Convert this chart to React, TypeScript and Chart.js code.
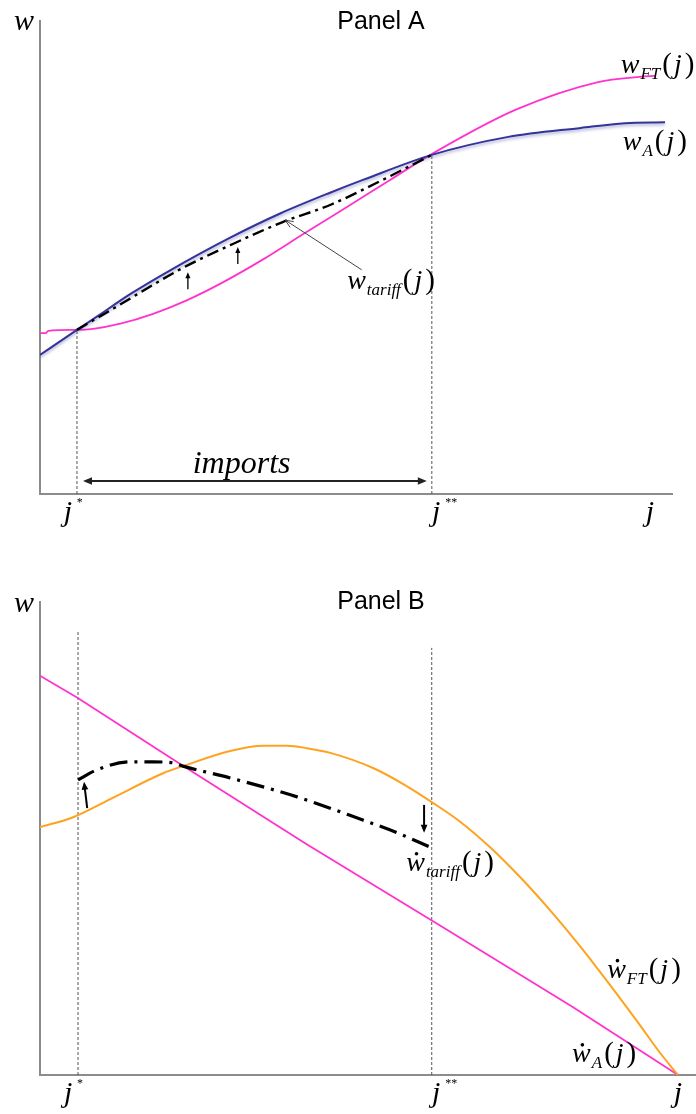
import React, { useEffect, useRef } from "react";
import { Chart, registerables } from "chart.js";

Chart.register(...registerables);

const SERIF = "'Liberation Serif', 'Times New Roman', serif";
const SANS = "'Liberation Sans', Arial, sans-serif";
const AXIS = "#8c8c8c";
const BLUE = "#333399";
const PINK = "#FF33CC";
const ORANGE = "#FFA21F";
const GUIDE = "#555555";

// ---------------- Panel A ----------------
const A_WA_J = [0, 5.85, 9.0, 14.2, 20.6, 30.1, 38.0, 45.9, 51.1, 62.0, 74.1, 85.6, 92.6, 98.9];
const A_WA_W = [29.4, 34.7, 37.5, 42.2, 47.3, 54.2, 59.3, 63.7, 66.4, 71.7, 75.5, 77.4, 78.4, 78.6];
const A_WFT_J = [0, 0.9, 1.3, 5.85, 8.4, 12.7, 17.9, 23.3, 29.0, 35.3, 41.6, 48.7, 55.4, 61.9, 75.2, 88.3, 94.9, 97.3];
const A_WFT_W = [34.0, 34.0, 34.5, 34.7, 34.9, 36.0, 38.1, 41.0, 44.8, 49.6, 54.9, 60.8, 66.4, 71.8, 81.2, 87.1, 88.2, 88.4];
const A_TARIFF_J = [5.85, 11.6, 22.6, 30.1, 38.4, 45.9, 53.3, 62.0];
const A_TARIFF_W = [34.7, 39.2, 47.8, 52.6, 57.5, 61.1, 65.8, 71.7];
const A_GUIDE_J = [5.85, 62.0];
const A_GUIDE_TOP = [34.7, 71.7];
const A_ARROW_J = [23.4, 31.3];
const A_ARROW_FROM = [43.3, 48.6];
const A_ARROW_TO = [46.9, 52.2];
const A_POINTER_FROM = [50.9, 47.4];
const A_POINTER_TO = [38.8, 57.9];
const A_IMPORTS_J = [6.8, 61.2];
const A_IMPORTS_W = 2.75;
const A_IMPORTS_TEXT = { j: 31.9, w: 4.4, text: "imports" };
const A_LABELS = [
  { sub: "tariff", j: 48.6, w: 43.3, dot: false },
  { sub: "FT", j: 91.9, w: 89.0, dot: false },
  { sub: "A", j: 92.2, w: 72.7, dot: false },
];
const A_TICK_J = [4.4, 62.7, 96.5];
const A_TICK_STARS = ["*", "**", ""];

// ---------------- Panel B ----------------
const B_WA_J = [0, 5.8, 22.4, 41.8, 62.7, 83.5, 92.0, 100];
const B_WA_W = [84.4, 79.8, 65.4, 48.8, 31.6, 14.4, 7.0, 0];
const B_WFT_J = [0, 5.2, 11.4, 19.3, 22.4, 29.8, 35.0, 38.7, 41.8, 45.5, 52.2, 57.2, 61.4, 65.8, 70.5, 75.2, 79.9, 84.6, 89.3, 94.0, 97.2, 100];
const B_WFT_W = [52.4, 54.5, 58.6, 63.8, 65.3, 68.5, 69.6, 69.6, 69.1, 68.1, 64.9, 61.3, 57.7, 53.6, 48.2, 41.9, 34.9, 27.3, 19.1, 10.6, 4.65, 0];
const B_TARIFF_J = [5.96, 8.9, 14.1, 17.7, 20.8, 22.4, 29.8, 40.3, 50.6, 56.0, 61.4];
const B_TARIFF_W = [62.4, 64.5, 66.2, 66.2, 66.0, 65.3, 62.8, 58.8, 53.9, 51.2, 48.0];
const B_GUIDE_J = [5.96, 61.4];
const B_GUIDE_TOP = [93.7, 90.3];
const B_ARROW_J_FROM = [7.4, 60.2];
const B_ARROW_J_TO = [6.9, 60.2];
const B_ARROW_FROM = [56.4, 57.1];
const B_ARROW_TO = [62.0, 51.2];
const B_LABELS = [
  { sub: "tariff", j: 57.4, w: 43.1, dot: true },
  { sub: "FT", j: 88.9, w: 20.5, dot: true },
  { sub: "A", j: 83.4, w: 2.7, dot: true },
];
const B_TICK_J = [4.4, 62.1, 100];
const B_TICK_STARS = ["*", "**", ""];
const B_X_MAX = 102.82;

const zip = (js: number[], ws: number[]) => js.map((j, i) => ({ x: j, y: ws[i] }));

function arrowHead(ctx: CanvasRenderingContext2D, x1: number, y1: number, x2: number, y2: number, size: number, open: boolean) {
  const a = Math.atan2(y2 - y1, x2 - x1);
  const hw = size * 0.42;
  const bx = x2 - size * Math.cos(a);
  const by = y2 - size * Math.sin(a);
  const lx = bx + hw * Math.sin(a);
  const ly = by - hw * Math.cos(a);
  const rx = bx - hw * Math.sin(a);
  const ry = by + hw * Math.cos(a);
  ctx.beginPath();
  if (open) {
    ctx.moveTo(lx, ly);
    ctx.lineTo(x2, y2);
    ctx.lineTo(rx, ry);
    ctx.stroke();
  } else {
    ctx.moveTo(x2, y2);
    ctx.lineTo(lx, ly);
    ctx.lineTo(rx, ry);
    ctx.closePath();
    ctx.fill();
  }
}

function arrow(ctx: CanvasRenderingContext2D, x1: number, y1: number, x2: number, y2: number, color: string, width: number, size: number, open = false, both = false) {
  ctx.save();
  ctx.strokeStyle = color;
  ctx.fillStyle = color;
  ctx.lineWidth = width;
  ctx.setLineDash([]);
  const len = Math.hypot(x2 - x1, y2 - y1);
  const ux = (x2 - x1) / len;
  const uy = (y2 - y1) / len;
  const cut = open ? 0 : size * 0.8;
  ctx.beginPath();
  ctx.moveTo(x1 + (both ? ux * cut : 0), y1 + (both ? uy * cut : 0));
  ctx.lineTo(x2 - ux * cut, y2 - uy * cut);
  ctx.stroke();
  arrowHead(ctx, x1, y1, x2, y2, size, open);
  if (both) arrowHead(ctx, x2, y2, x1, y1, size, open);
  ctx.restore();
}

function mathLabel(ctx: CanvasRenderingContext2D, x: number, base: number, sub: string, dot: boolean, size: number) {
  ctx.save();
  ctx.fillStyle = "#000";
  ctx.textAlign = "left";
  ctx.textBaseline = "alphabetic";
  let cx = x;
  ctx.font = `italic ${size}px ${SERIF}`;
  ctx.fillText("w", cx, base);
  const ww = ctx.measureText("w").width;
  if (dot) {
    ctx.beginPath();
    ctx.arc(cx + ww * 0.55, base - size * 0.62, size * 0.065, 0, Math.PI * 2);
    ctx.fill();
  }
  cx += ww + 1;
  ctx.font = `italic ${Math.round(size * 0.62)}px ${SERIF}`;
  ctx.fillText(sub, cx, base + size * 0.2);
  cx += ctx.measureText(sub).width + 2;
  ctx.font = `${Math.round(size * 1.05)}px ${SERIF}`;
  ctx.fillText("(", cx, base);
  cx += ctx.measureText("(").width + 2;
  ctx.font = `italic ${size}px ${SERIF}`;
  ctx.fillText("j", cx, base);
  cx += ctx.measureText("j").width + 3;
  ctx.font = `${Math.round(size * 1.05)}px ${SERIF}`;
  ctx.fillText(")", cx, base);
  ctx.restore();
}

function tickLabels(chart: any, js: number[], stars: string[]) {
  const ctx: CanvasRenderingContext2D = chart.ctx;
  const base = chart.chartArea.bottom + 27;
  ctx.save();
  ctx.fillStyle = "#000";
  js.forEach((j, i) => {
    const x = chart.scales.x.getPixelForValue(j);
    ctx.font = `italic 30px ${SERIF}`;
    ctx.textAlign = "center";
    ctx.fillText("j", x, base);
    if (stars[i]) {
      ctx.font = `12px ${SERIF}`;
      ctx.textAlign = "left";
      ctx.fillText(stars[i], x + 9, base - 15);
    }
  });
  ctx.restore();
}

function frameText(chart: any, title: string, titleBase: number, wBase: number) {
  const ctx: CanvasRenderingContext2D = chart.ctx;
  ctx.save();
  ctx.fillStyle = "#000";
  ctx.textBaseline = "alphabetic";
  ctx.font = `25px ${SANS}`;
  ctx.textAlign = "center";
  ctx.fillText(title, 381, titleBase);
  ctx.font = `italic 30px ${SERIF}`;
  ctx.textAlign = "left";
  ctx.fillText("w", 14, wBase);
  ctx.restore();
}

function drawA(chart: any) {
  const ctx: CanvasRenderingContext2D = chart.ctx;
  const X = chart.scales.x;
  const Y = chart.scales.y;
  frameText(chart, "Panel A", 29, 30);
  A_ARROW_J.forEach((j, i) => {
    arrow(ctx, X.getPixelForValue(j), Y.getPixelForValue(A_ARROW_FROM[i]), X.getPixelForValue(j), Y.getPixelForValue(A_ARROW_TO[i]), "#000", 1.3, 6);
  });
  arrow(ctx, X.getPixelForValue(A_POINTER_FROM[0]), Y.getPixelForValue(A_POINTER_FROM[1]), X.getPixelForValue(A_POINTER_TO[0]), Y.getPixelForValue(A_POINTER_TO[1]), "#444", 1, 8, true);
  const iy = Y.getPixelForValue(A_IMPORTS_W);
  arrow(ctx, X.getPixelForValue(A_IMPORTS_J[0]), iy, X.getPixelForValue(A_IMPORTS_J[1]), iy, "#222", 2, 9, false, true);
  ctx.save();
  ctx.fillStyle = "#000";
  ctx.font = `italic 32px ${SERIF}`;
  ctx.textAlign = "center";
  ctx.fillText(A_IMPORTS_TEXT.text, X.getPixelForValue(A_IMPORTS_TEXT.j), Y.getPixelForValue(A_IMPORTS_TEXT.w));
  ctx.restore();
  A_LABELS.forEach((l) => mathLabel(ctx, X.getPixelForValue(l.j), Y.getPixelForValue(l.w), l.sub, l.dot, 28));
  tickLabels(chart, A_TICK_J, A_TICK_STARS);
}

function drawB(chart: any) {
  const ctx: CanvasRenderingContext2D = chart.ctx;
  const X = chart.scales.x;
  const Y = chart.scales.y;
  frameText(chart, "Panel B", 52, 55);
  B_ARROW_FROM.forEach((w, i) => {
    arrow(ctx, X.getPixelForValue(B_ARROW_J_FROM[i]), Y.getPixelForValue(w), X.getPixelForValue(B_ARROW_J_TO[i]), Y.getPixelForValue(B_ARROW_TO[i]), "#000", 2, 8);
  });
  B_LABELS.forEach((l) => mathLabel(ctx, X.getPixelForValue(l.j), Y.getPixelForValue(l.w), l.sub, l.dot, 28));
  tickLabels(chart, B_TICK_J, B_TICK_STARS);
}

const shadowPlugin = {
  id: "blueShadow",
  beforeDatasetDraw(chart: any, args: any) {
    if (chart.data.datasets[args.index].label === "wA_shadow") {
      const ctx = chart.ctx;
      ctx.save();
      ctx.shadowColor = "rgba(70,70,160,0.45)";
      ctx.shadowBlur = 3;
      ctx.shadowOffsetY = 2;
    }
  },
  afterDatasetDraw(chart: any, args: any) {
    if (chart.data.datasets[args.index].label === "wA_shadow") chart.ctx.restore();
  },
};

function guideSets(js: number[], tops: number[]) {
  return js.map((j, i) => ({
    label: "guide" + i,
    data: [{ x: j, y: 0 }, { x: j, y: tops[i] }],
    borderColor: GUIDE,
    borderWidth: 1,
    borderDash: [3, 2],
    pointRadius: 0,
  }));
}

function config(xMax: number, padding: any, datasets: any[], draw: (c: any) => void): any {
  return {
    type: "line",
    data: { datasets },
    options: {
      responsive: false,
      animation: false,
      devicePixelRatio: 1,
      events: [],
      layout: { padding },
      plugins: { legend: { display: false }, tooltip: { enabled: false }, title: { display: false } },
      elements: { point: { radius: 0 } },
      scales: {
        x: {
          type: "linear", min: 0, max: xMax,
          grid: { display: false, drawTicks: false },
          ticks: { display: false },
          border: { display: true, color: AXIS, width: 2 },
        },
        y: {
          type: "linear", min: 0, max: 100,
          grid: { display: false, drawTicks: false },
          ticks: { display: false },
          border: { display: true, color: AXIS, width: 2 },
        },
      },
    },
    plugins: [shadowPlugin, { id: "annot", afterDatasetsDraw: draw }],
  };
}

export default function App() {
  const refA = useRef<HTMLCanvasElement>(null);
  const refB = useRef<HTMLCanvasElement>(null);

  useEffect(() => {
    const dsA = [
      { label: "tariff", data: zip(A_TARIFF_J, A_TARIFF_W), borderColor: "#000", borderWidth: 2.4, borderDash: [12, 5, 3, 5], cubicInterpolationMode: "monotone" },
      { label: "wA_shadow", data: zip(A_WA_J, A_WA_W), borderColor: BLUE, borderWidth: 2, cubicInterpolationMode: "monotone" },
      { label: "wFT", data: zip(A_WFT_J, A_WFT_W), borderColor: PINK, borderWidth: 1.8, cubicInterpolationMode: "monotone" },
      ...guideSets(A_GUIDE_J, A_GUIDE_TOP),
    ];
    const dsB = [
      { label: "tariff", data: zip(B_TARIFF_J, B_TARIFF_W), borderColor: "#000", borderWidth: 3.2, borderDash: [18, 7, 3, 7], cubicInterpolationMode: "monotone" },
      { label: "wFT", data: zip(B_WFT_J, B_WFT_W), borderColor: ORANGE, borderWidth: 2, cubicInterpolationMode: "monotone" },
      { label: "wA", data: zip(B_WA_J, B_WA_W), borderColor: PINK, borderWidth: 1.8, tension: 0 },
      ...guideSets(B_GUIDE_J, B_GUIDE_TOP),
    ];
    const a = new Chart(refA.current as HTMLCanvasElement, config(100, { left: 40, right: 24, top: 21, bottom: 63 }, dsA, drawA));
    const b = new Chart(refB.current as HTMLCanvasElement, config(B_X_MAX, { left: 40, right: 0, top: 45, bottom: 39 }, dsB, drawB));
    return () => {
      a.destroy();
      b.destroy();
    };
  }, []);

  return (
    <div style={{ position: "absolute", left: 0, top: 0, width: 696, height: 1114, background: "#fff", overflow: "hidden" }}>
      <canvas ref={refA} width={696} height={557} style={{ display: "block", width: 696, height: 557 }} />
      <canvas ref={refB} width={696} height={557} style={{ display: "block", width: 696, height: 557 }} />
    </div>
  );
}
